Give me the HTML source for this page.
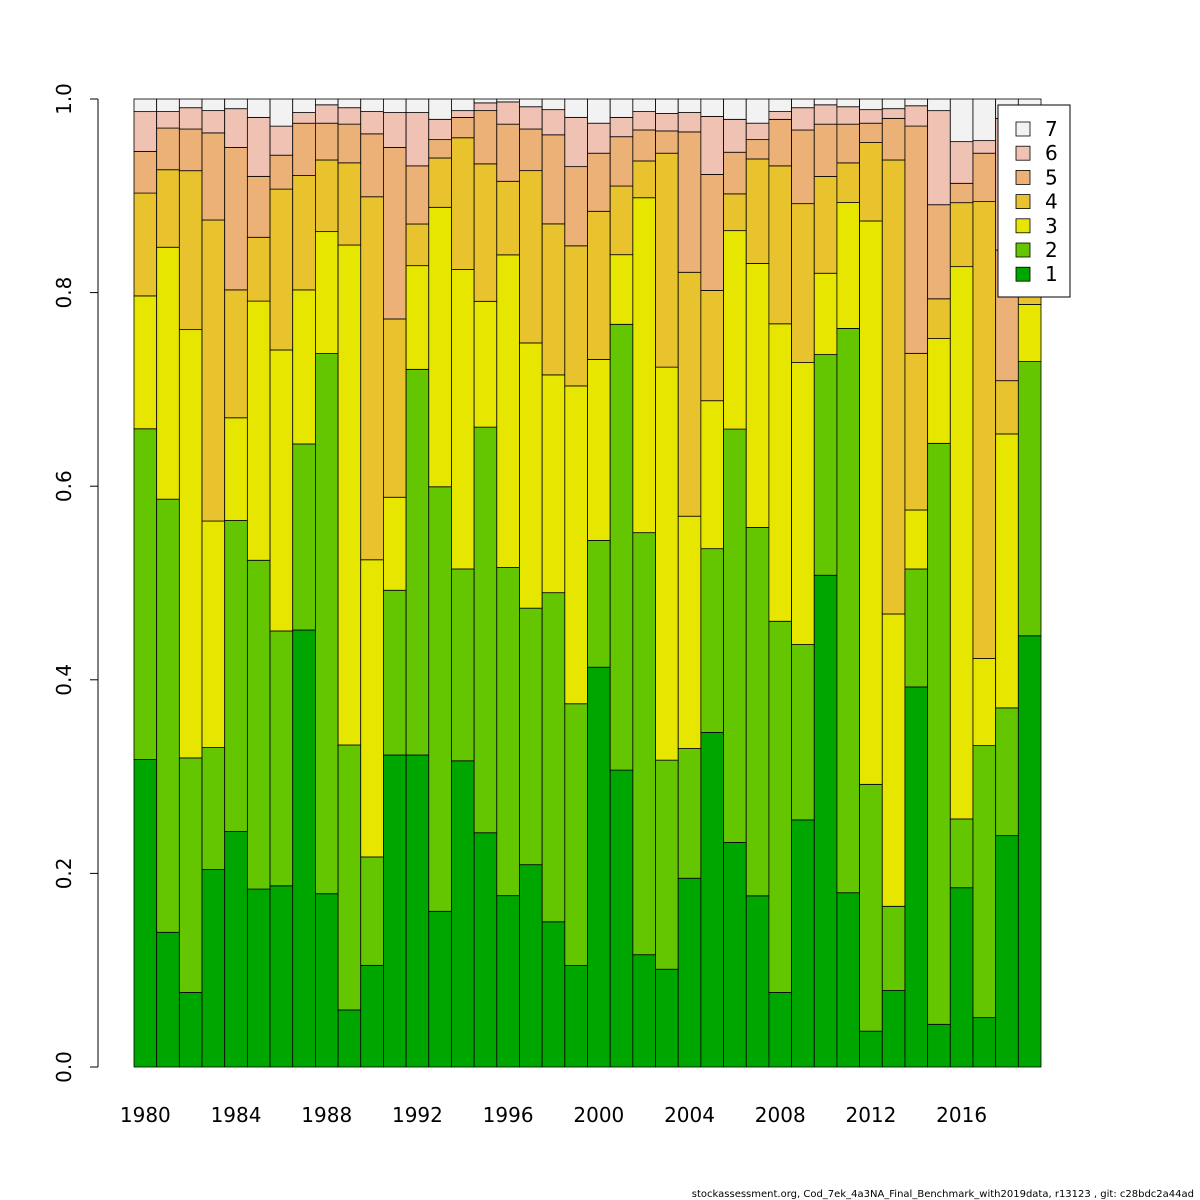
<!DOCTYPE html>
<html><head><meta charset="utf-8">
<style>
html,body{margin:0;padding:0;background:#fff;}
svg{display:block;font-family:"DejaVu Sans","Liberation Sans",sans-serif;}
</style></head>
<body>
<svg id="chart" width="1200" height="1200" viewBox="0 0 1200 1200" xmlns="http://www.w3.org/2000/svg">
  <rect width="1200" height="1200" fill="#fff"/>
  <g id="bars"></g>
  <g id="yaxis"></g>
  <g id="xaxis"></g>
  <g id="legend"></g>
  <text x="1194" y="1197" font-size="10" text-anchor="end" fill="#000">stockassessment.org, Cod_7ek_4a3NA_Final_Benchmark_with2019data, r13123 , git: c28bdc2a44ad</text>
</svg>
<script>
const years = [1980,1981,1982,1983,1984,1985,1986,1987,1988,1989,1990,1991,1992,1993,1994,1995,1996,1997,1998,1999,2000,2001,2002,2003,2004,2005,2006,2007,2008,2009,2010,2011,2012,2013,2014,2015,2016,2017,2018,2019];
const age1 = [.317,.139,.077,.204,.243,.184,.187,.451,.179,.059,.105,.322,.322,.161,.316,.242,.177,.209,.150,.105,.413,.307,.116,.101,.195,.346,.232,.177,.077,.255,.508,.180,.037,.079,.393,.044,.185,.051,.239,.445];
const age2 = [.341,.447,.242,.126,.321,.340,.263,.192,.558,.274,.112,.170,.398,.439,.198,.419,.339,.265,.340,.271,.131,.461,.436,.216,.134,.190,.427,.381,.383,.181,.228,.583,.255,.087,.122,.599,.071,.281,.132,.283];
const age3 = [.137,.260,.442,.234,.106,.268,.290,.159,.126,.517,.307,.096,.107,.289,.309,.130,.323,.274,.225,.329,.187,.072,.346,.406,.240,.153,.205,.273,.307,.291,.084,.130,.582,.302,.061,.108,.570,.090,.283,.059];
const age4 = [.106,.080,.164,.311,.132,.066,.166,.118,.074,.085,.375,.184,.043,.051,.136,.142,.076,.178,.156,.145,.153,.071,.038,.221,.252,.114,.038,.108,.163,.164,.100,.041,.081,.469,.162,.041,.066,.472,.055,.077];
const age5 = [.043,.043,.043,.090,.147,.063,.035,.054,.038,.040,.065,.177,.060,.019,.021,.055,.059,.043,.092,.082,.060,.051,.032,.023,.145,.120,.043,.020,.048,.076,.054,.040,.020,.043,.235,.097,.020,.050,.135,.072];
const age6 = [.041,.017,.022,.023,.040,.061,.030,.011,.019,.017,.023,.036,.055,.021,.007,.008,.023,.023,.026,.051,.031,.020,.019,.018,.020,.060,.034,.017,.008,.023,.020,.018,.014,.010,.021,.097,.043,.013,.136,.056];
const age7 = [.013,.013,.009,.012,.010,.019,.028,.014,.006,.009,.013,.014,.014,.021,.012,.004,.003,.008,.011,.019,.025,.019,.013,.015,.014,.018,.021,.025,.013,.009,.006,.008,.011,.010,.007,.012,.044,.043,.020,.007];
const yTicks = [0,0.2,0.4,0.6,0.8,1.0];
const yTickLabels = ["0.0","0.2","0.4","0.6","0.8","1.0"];
const xTickYears = [1980,1984,1988,1992,1996,2000,2004,2008,2012,2016];
const legendLabels = ["7","6","5","4","3","2","1"];

const NS = "http://www.w3.org/2000/svg";
const colors = ["#00A600","#63C600","#E6E600","#E8C32E","#ECB176","#EFC2B3","#F2F2F2"];
const series = [age1,age2,age3,age4,age5,age6,age7];
const plotLeft = 134, plotRight = 1041, yBottom = 1067, yTop = 99;
const bw = (plotRight - plotLeft) / years.length;
function yScale(v){ return yBottom - v * (yBottom - yTop); }
function xScale(i){ return plotLeft + i * bw; }
function mk(tag, attrs, parent){ const e = document.createElementNS(NS, tag); for (const k in attrs) e.setAttribute(k, attrs[k]); parent.appendChild(e); return e; }

const gb = document.getElementById('bars');
years.forEach((yr, i) => {
  let total = 0;
  series.forEach(s => { total += s[i]; });
  let cum = 0;
  series.forEach((s, k) => {
    const v = s[i] / total;
    const r = mk('rect', {x: xScale(i), y: yScale(cum + v), width: bw, height: yScale(cum) - yScale(cum + v), fill: colors[k], stroke: '#000', 'stroke-width': 0.8}, gb);
    
    
    cum += v;
  });
});

const gy = document.getElementById('yaxis');
const axl = mk('line', {x1: 98, x2: 98, y1: yScale(0), y2: yScale(1), stroke: '#000', 'stroke-width': 1}, gy);


yTicks.forEach((t, i) => {
  const y = yScale(t);
  const tl = mk('line', {x1: 90, x2: 98, y1: y, y2: y, stroke: '#000', 'stroke-width': 1}, gy);
  
  
  const tx = mk('text', {x: 71, y: y, 'font-size': 20, 'text-anchor': 'middle', transform: 'rotate(-90 71 ' + y + ')'}, gy);
  tx.textContent = yTickLabels[i];
  
  
});

const gx = document.getElementById('xaxis');
xTickYears.forEach(yr => {
  const i = years.indexOf(yr);
  const tx = mk('text', {x: xScale(i) + bw / 2, y: 1122, 'font-size': 20, 'text-anchor': 'middle'}, gx);
  tx.textContent = String(yr);
  
  
});

const gl = document.getElementById('legend');
const lb = mk('rect', {x: 998, y: 105, width: 72, height: 192, fill: '#fff', stroke: '#000', 'stroke-width': 1}, gl);


legendLabels.forEach((lab, j) => {
  const cy = 129 + j * 24.2;
  const sw = mk('rect', {x: 1016, y: cy - 7, width: 14, height: 14, fill: colors[6 - j], stroke: '#000', 'stroke-width': 0.8}, gl);
  
  
  const t = mk('text', {x: 1045, y: cy + 7, 'font-size': 20}, gl);
  t.textContent = lab;
  
  
});
</script>
</body></html>
